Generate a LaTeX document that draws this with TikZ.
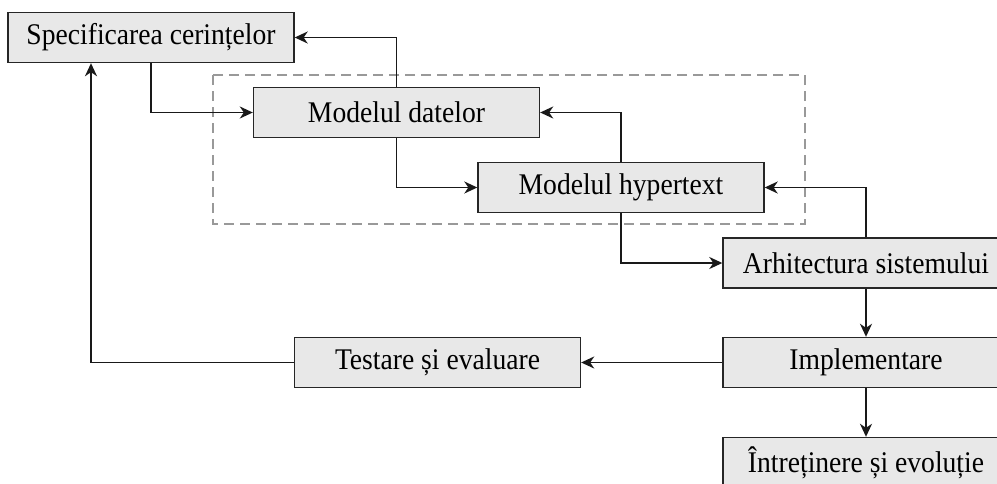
\documentclass[tikz,border=0pt]{standalone}
\usepackage{fontspec}
\setmainfont[FakeStretch=0.92]{Liberation Serif}
\usetikzlibrary{positioning,arrows.meta}

\tikzset{
  every box/.style={draw=black!85, fill=gray!18, line width=1.4pt,
    minimum width=286pt, minimum height=50pt, inner sep=0pt,
    font=\fontsize{30}{32}\selectfont},
  link/.style={->, line width=1.7pt, draw=black!90}
}

\begin{document}
\begin{tikzpicture}[x=1pt, y=-1pt, >={Stealth[length=13pt, width=12pt, inset=4pt]}]
\useasboundingbox (0,0) rectangle (997,483);
\clip (0,0) rectangle (997,483);

% group of the two models
\draw [dashed, dash pattern=on 10pt off 6pt, gray!80, line width=1.2pt]
  (213,75) rectangle (805,224);

\foreach \n/\x/\y/\t in {spec/151/37.5/Specificarea cerințelor,
    datelor/396.5/112.5/Modelul datelor,
    hyper/621/187.5/Modelul hypertext,
    arhi/866/263/Arhitectura sistemului,
    impl/866/362.5/Implementare,
    testare/437.5/362.5/Testare și evaluare,
    intr/866/462.5/Întreținere și evoluție}
  \node [every box] (\n) at (\x,\y) {\t};

% arrows
\draw [link] (spec.south) |- (datelor.west);
\draw [link] (datelor.north) |- (spec.east);
\draw [link] (datelor.south) |- (hyper.west);
\draw [link] (hyper.north) |- (datelor.east);
\draw [link] (hyper.south) |- (arhi.west);
\draw [link] (arhi.north) |- (hyper.east);
\draw [link] (arhi) -- (impl);
\draw [link] (impl) -- (intr);
\draw [link] (impl) -- (testare);
\draw [link] (testare.west) -| ([xshift=-60pt]spec.south);
\end{tikzpicture}
\end{document}
